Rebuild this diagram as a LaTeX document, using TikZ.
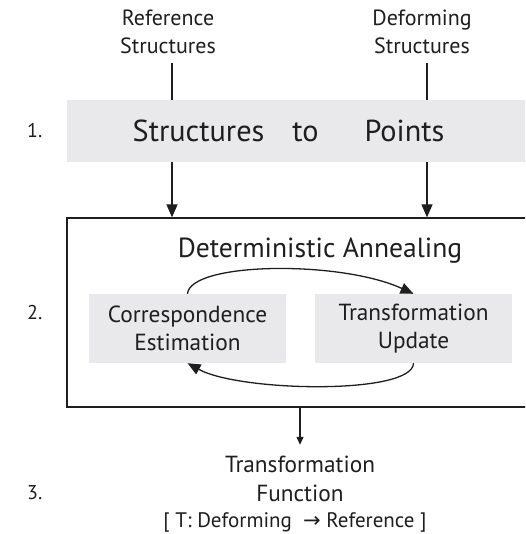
\documentclass[tikz,border=0pt]{standalone}
\usepackage{fontspec}
\setmainfont{PT Sans}
\newfontfamily\symfont{DejaVu Sans}
\usetikzlibrary{arrows.meta}
\definecolor{bandgray}{RGB}{233,233,235}
\definecolor{ink}{RGB}{30,30,30}
\tikzset{
  smalltxt/.style={font=\fontsize{22}{28}\selectfont, text=ink, align=center, inner sep=0pt},
  labeltxt/.style={font=\fontsize{20}{24}\selectfont, text=ink, inner sep=0pt},
  brtxt/.style={font=\fontsize{21}{26}\selectfont, text=ink, inner sep=0pt},
  midtxt/.style={font=\fontsize{23.3}{28.5}\selectfont, text=ink, align=center, inner sep=0pt},
  bigtxt/.style={font=\fontsize{30.3}{38}\selectfont, text=ink, inner sep=0pt},
  titletxt/.style={font=\fontsize{27.6}{30}\selectfont, text=ink, inner sep=0pt},
  grayband/.style={fill=bandgray, draw=none, inner sep=0pt},
  graybox/.style={fill=bandgray, draw=none, inner sep=0pt, minimum width=197pt, minimum height=69pt, font=\fontsize{23.3}{28.5}\selectfont, text=ink, align=center},
  outerbox/.style={draw=ink, line width=1.3pt, inner sep=0pt, minimum width=493pt, minimum height=189pt},
  conn/.style={draw=ink, line width=1.3pt},
  arr/.style={conn, -{Triangle[length=13pt,width=11pt]}},
  arrsmall/.style={conn, -{Triangle[length=8pt,width=7pt]}},
}
\begin{document}
\begin{tikzpicture}[x=1pt,y=-1pt]
\useasboundingbox (0,0) rectangle (525,534);
\clip (0,0) rectangle (525,534);
% top inputs
\node[smalltxt, anchor=base] (ref) at (168,54) {Reference\\Structures};
\node[smalltxt, anchor=base] (def) at (422,54) {Deforming\\Structures};
% band
\node[grayband, minimum width=493pt, minimum height=62pt] (band) at (313.5,131) {};
\node[bigtxt, anchor=base west] (stp) at (132.5,141.7) {Structures\hspace{28pt}to\hspace{46pt}Points};
% outer box
\node[outerbox] (box) at (313.5,312.5) {};
\node[titletxt, anchor=base] (da) at (320,257) {Deterministic Annealing};
\node[graybox] (corr) at (187.5,328.5) {Correspondence\\Estimation};
\node[graybox] (trans) at (413.5,328.5) {Transformation\\Update};
% output
\node[midtxt, anchor=base] (tf) at (300,501) {Transformation\\Function};
\node[brtxt, anchor=base] (tfl) at (295,527) {[ T: Deforming \ {\symfont →} Reference ]};
% step labels
\node[labeltxt, anchor=base west] (l1) at (27,138) {1.};
\node[labeltxt, anchor=base west] (l2) at (27,319) {2.};
\node[labeltxt, anchor=base west] (l3) at (27,499) {3.};
% connectors
\coordinate (refx) at (172,0);
\coordinate (defx) at (427,0);
\draw[conn] ([yshift=-9pt]ref.south -| refx) -- (refx |- band.north);
\draw[conn] ([yshift=-9pt]def.south -| defx) -- (defx |- band.north);
\draw[arr] (refx |- band.south) -- (refx |- box.north);
\draw[arr] (defx |- band.south) -- (defx |- box.north);
\draw[arr] (corr.north) .. controls (190,262) and (340,260) .. (trans.north);
\draw[arr] (trans.south) .. controls (413,395) and (240,392) .. (corr.south);
\draw[arrsmall, shorten >=11pt] (box.south -| tf.north) -- (tf.north);
\end{tikzpicture}
\end{document}
